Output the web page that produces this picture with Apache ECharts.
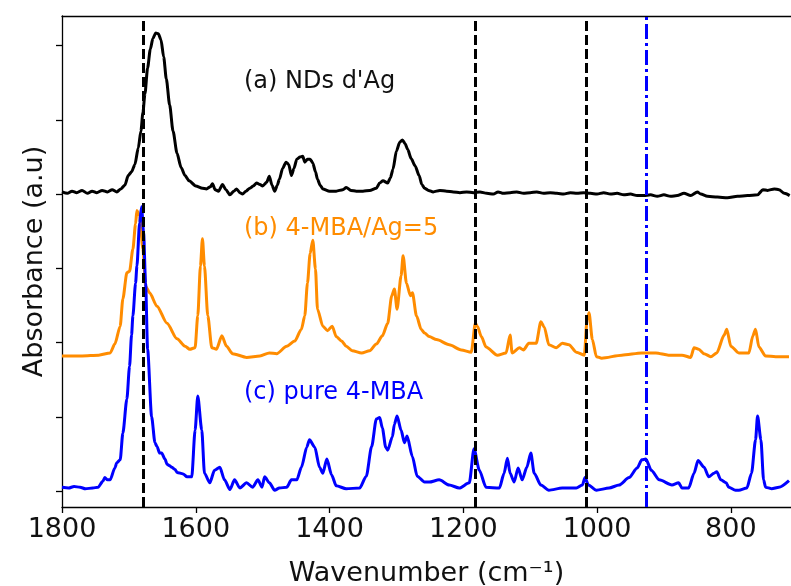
<!DOCTYPE html>
<html>
<head>
<meta charset="utf-8">
<script src="https://cdn.jsdelivr.net/npm/echarts@6/dist/echarts.min.js"></script>
<style>
html,body{margin:0;padding:0;background:#fff;}
#chart{width:791px;height:586px;}
</style>
</head>
<body>
<div id="chart"></div>
<script>
// Wavenumber (cm-1) / absorbance (a.u., stacked offsets) pairs
const seriesNames = ["(a) NDs d'Ag", "(b) 4-MBA/Ag=5", "(c) pure 4-MBA"];

const ndsAg = [
[1800,4.03],[1792,4.01],[1785,4.04],[1778,4.02],[1770,4.05],[1762,4.01],[1755,4.04],[1748,4.02],[1740,4.05],[1732,4.03],[1725,4.06],[1718,4.03],[1712,4.07],[1706,4.12],[1701,4.25],[1696,4.30],[1691,4.40],[1686,4.62],[1682,4.85],[1679,5.10],[1676,5.35],[1672,5.70],[1668,5.95],[1664,6.10],[1660,6.17],[1656,6.16],[1652,6.08],[1648,5.85],[1644,5.55],[1639,5.20],[1634,4.85],[1628,4.55],[1622,4.36],[1616,4.25],[1610,4.18],[1600,4.11],[1590,4.08],[1584,4.07],[1578,4.10],[1575,4.14],[1571,4.06],[1566,4.04],[1560,4.13],[1555,4.06],[1549,3.99],[1543,4.04],[1539,4.07],[1534,4.02],[1530,4.00],[1525,4.04],[1519,4.08],[1514,4.11],[1509,4.15],[1504,4.13],[1500,4.11],[1494,4.16],[1490,4.24],[1486,4.12],[1482,4.04],[1478,4.12],[1475,4.20],[1470,4.35],[1465,4.43],[1461,4.40],[1457,4.25],[1453,4.35],[1449,4.47],[1444,4.50],[1440,4.51],[1437,4.43],[1433,4.47],[1429,4.47],[1425,4.42],[1421,4.30],[1418,4.20],[1414,4.12],[1410,4.07],[1400,4.04],[1390,4.04],[1380,4.06],[1375,4.09],[1368,4.05],[1360,4.04],[1350,4.04],[1340,4.05],[1330,4.08],[1325,4.15],[1320,4.18],[1313,4.15],[1309,4.22],[1305,4.34],[1300,4.58],[1295,4.70],[1291,4.73],[1287,4.68],[1283,4.60],[1278,4.48],[1272,4.38],[1266,4.25],[1262,4.13],[1258,4.08],[1252,4.05],[1245,4.03],[1235,4.05],[1225,4.04],[1215,4.03],[1205,4.02],[1195,4.03],[1185,4.02],[1175,4.03],[1165,4.01],[1155,4.00],[1148,4.03],[1140,4.01],[1130,4.02],[1120,4.03],[1110,4.01],[1100,4.02],[1090,4.03],[1080,4.01],[1070,4.02],[1060,4.01],[1050,4.00],[1040,4.02],[1030,4.01],[1020,4.02],[1010,4.01],[1000,4.00],[990,4.02],[980,4.00],[970,4.01],[960,3.99],[950,4.00],[940,3.98],[930,3.98],[920,3.99],[910,3.97],[900,3.99],[890,3.97],[880,3.98],[870,4.01],[860,3.98],[850,4.03],[845,4.00],[835,3.97],[820,3.96],[805,3.95],[790,3.97],[775,3.98],[760,3.99],[752,4.06],[745,4.05],[735,4.07],[728,4.06],[720,4.01],[712,3.98]
];

const mbaAg5 = [
[1800,1.82],[1770,1.82],[1745,1.83],[1728,1.86],[1721,1.98],[1713,2.22],[1709,2.59],[1703,2.94],[1699,2.96],[1694,3.26],[1690,3.60],[1688,3.78],[1684,3.71],[1679,3.26],[1675,2.76],[1669,2.67],[1658,2.49],[1643,2.26],[1628,2.05],[1616,1.95],[1609,1.91],[1601,1.93],[1597,2.36],[1593,3.03],[1590,3.40],[1587,3.03],[1582,2.36],[1576,1.93],[1569,1.91],[1561,2.09],[1554,1.95],[1545,1.85],[1524,1.80],[1504,1.82],[1490,1.86],[1479,1.85],[1464,1.95],[1452,2.02],[1442,2.18],[1437,2.36],[1433,2.80],[1429,3.20],[1425,3.38],[1421,2.99],[1418,2.45],[1410,2.22],[1403,2.16],[1396,2.22],[1390,2.08],[1382,2.02],[1375,1.95],[1366,1.89],[1352,1.86],[1340,1.89],[1330,1.98],[1321,2.09],[1313,2.26],[1307,2.63],[1303,2.72],[1299,2.45],[1293,2.90],[1290,3.17],[1285,2.80],[1279,2.63],[1276,2.67],[1270,2.36],[1263,2.18],[1258,2.13],[1251,2.08],[1240,2.04],[1221,1.97],[1203,1.90],[1188,1.87],[1182,2.26],[1179,2.22],[1173,2.08],[1166,1.94],[1149,1.83],[1136,1.86],[1130,2.10],[1127,1.86],[1116,1.93],[1110,1.90],[1102,1.99],[1091,1.99],[1084,2.28],[1079,2.21],[1072,1.97],[1061,1.93],[1052,1.99],[1042,1.97],[1031,1.87],[1019,1.83],[1015,2.30],[1012,2.40],[1007,2.04],[1001,1.81],[993,1.79],[963,1.83],[933,1.86],[912,1.86],[893,1.83],[873,1.83],[860,1.80],[855,1.93],[848,1.91],[840,1.85],[830,1.81],[821,1.86],[810,2.10],[806,2.18],[800,1.95],[788,1.86],[773,1.86],[767,2.09],[763,2.18],[758,1.94],[748,1.82],[733,1.81],[713,1.81]
];

const pureMba = [
[1800,0.05],[1790,0.04],[1782,0.06],[1773,0.05],[1765,0.03],[1754,0.04],[1746,0.05],[1739,0.13],[1736,0.18],[1732,0.15],[1728,0.15],[1721,0.31],[1718,0.38],[1713,0.42],[1709,0.78],[1703,1.24],[1699,1.68],[1696,2.10],[1694,2.36],[1690,2.80],[1688,3.03],[1684,3.61],[1681,3.83],[1678,3.48],[1675,2.80],[1672,1.91],[1666,1.00],[1661,0.65],[1658,0.60],[1654,0.51],[1651,0.51],[1646,0.43],[1643,0.36],[1639,0.34],[1636,0.32],[1631,0.29],[1628,0.25],[1619,0.23],[1613,0.19],[1606,0.19],[1601,0.82],[1597,1.28],[1591,0.82],[1587,0.24],[1579,0.11],[1572,0.28],[1564,0.32],[1557,0.15],[1549,0.02],[1542,0.15],[1534,0.04],[1524,0.11],[1515,0.05],[1507,0.15],[1501,0.05],[1497,0.19],[1490,0.11],[1482,0.01],[1475,0.04],[1464,0.05],[1457,0.15],[1449,0.15],[1442,0.32],[1434,0.59],[1430,0.69],[1422,0.59],[1415,0.32],[1410,0.24],[1404,0.43],[1397,0.22],[1390,0.07],[1375,0.03],[1355,0.04],[1345,0.20],[1337,0.60],[1330,0.97],[1325,0.99],[1321,0.85],[1316,0.59],[1313,0.55],[1306,0.73],[1303,0.90],[1299,1.01],[1293,0.82],[1288,0.65],[1284,0.74],[1276,0.46],[1269,0.20],[1258,0.12],[1251,0.12],[1236,0.15],[1221,0.08],[1206,0.04],[1191,0.11],[1184,0.57],[1176,0.28],[1166,0.05],[1146,0.04],[1139,0.24],[1134,0.44],[1130,0.24],[1124,0.12],[1118,0.31],[1112,0.15],[1105,0.32],[1099,0.51],[1094,0.24],[1084,0.08],[1072,0.01],[1052,0.04],[1031,0.04],[1022,0.08],[1018,0.18],[1013,0.08],[1001,0.01],[982,0.04],[967,0.08],[952,0.18],[940,0.31],[933,0.42],[927,0.43],[919,0.28],[907,0.15],[888,0.08],[878,0.11],[873,0.04],[863,0.04],[855,0.24],[849,0.41],[840,0.32],[833,0.19],[825,0.24],[821,0.26],[815,0.15],[807,0.11],[803,0.05],[793,0.01],[788,0.01],[776,0.04],[769,0.24],[763,0.69],[760,1.01],[755,0.69],[751,0.15],[748,0.05],[743,0.04],[739,0.03],[728,0.05],[713,0.14]
];

const dashedLinesAt = [1679, 1182, 1016];
const dashDotLineAt = [926];
const xTicks = [1800, 1600, 1400, 1200, 1000, 800];
const yTicks = [0, 1, 2, 3, 4, 5, 6];

const FONT = "DejaVu Sans";
const colors = ['#000000', '#ff8c00', '#0000ff'];

const chart = echarts.init(document.getElementById('chart'), null, {renderer: 'canvas'});

const lineSeries = [ndsAg, mbaAg5, pureMba].map((d, i) => ({
  name: seriesNames[i],
  type: 'line',
  data: d,
  showSymbol: false,
  smooth: 0.25,
  smoothMonotone: 'x',
  lineStyle: {color: colors[i], width: 3},
  itemStyle: {color: colors[i]},
  z: 2 + i,
  silent: true
}));

lineSeries.push({
  type: 'line',
  data: [],
  z: 10,
  silent: true,
  markLine: {
    silent: true,
    symbol: ['none', 'none'],
    label: {show: false},
    animation: false,
    data: dashedLinesAt.map(v => ({xAxis: v, lineStyle: {color: '#000', width: 3, type: [10, 4]}}))
      .concat(dashDotLineAt.map(v => ({xAxis: v, lineStyle: {color: '#0000ff', width: 3, type: [15, 4, 3, 4]}})))
  }
});

const option = {
  animation: false,
  backgroundColor: '#ffffff',
  grid: {left: 62, top: 16, right: 0, bottom: 79, containLabel: false, outerBoundsMode: 'none'},
  xAxis: [{
    type: 'value',
    inverse: true,
    min: 710,
    max: 1800,
    position: 'bottom',
    splitLine: {show: false},
    axisLine: {show: true, onZero: false, lineStyle: {color: '#000', width: 1.3}},
    axisTick: {show: true, inside: false, length: 6, lineStyle: {color: '#000', width: 1.3}, customValues: xTicks},
    axisLabel: {show: true, customValues: xTicks, formatter: v => String(v), color: '#111', fontFamily: FONT, fontSize: 27, margin: 9},
    name: 'Wavenumber (cm\u207B\u00B9)',
    nameLocation: 'middle',
    nameGap: 53,
    nameTextStyle: {color: '#111', fontFamily: FONT, fontSize: 27}
  }, {
    type: 'value',
    inverse: true,
    min: 710,
    max: 1800,
    position: 'top',
    splitLine: {show: false},
    axisLine: {show: true, onZero: false, lineStyle: {color: '#000', width: 1.3}},
    axisTick: {show: false},
    axisLabel: {show: false}
  }],
  yAxis: {
    type: 'value',
    min: -0.216,
    max: 6.40,
    splitLine: {show: false},
    axisLine: {show: true, onZero: false, lineStyle: {color: '#000', width: 1.3}},
    axisTick: {show: true, inside: false, length: 6, lineStyle: {color: '#000', width: 1.3}, customValues: yTicks},
    axisLabel: {show: false},
    name: 'Absorbance (a.u)',
    nameLocation: 'middle',
    nameRotate: 90,
    nameGap: 14,
    nameTextStyle: {color: '#111', fontFamily: FONT, fontSize: 27}
  },
  graphic: [
    {type: 'text', left: 244, top: 70, silent: true, style: {text: seriesNames[0], fill: '#111', font: '24px "DejaVu Sans"'}},
    {type: 'text', left: 244, top: 217, silent: true, style: {text: seriesNames[1], fill: '#ff8c00', font: '24px "DejaVu Sans"'}},
    {type: 'text', left: 244, top: 381, silent: true, style: {text: seriesNames[2], fill: '#0000ff', font: '24px "DejaVu Sans"'}}
  ],
  series: lineSeries
};

chart.setOption(option);
</script>
</body>
</html>
